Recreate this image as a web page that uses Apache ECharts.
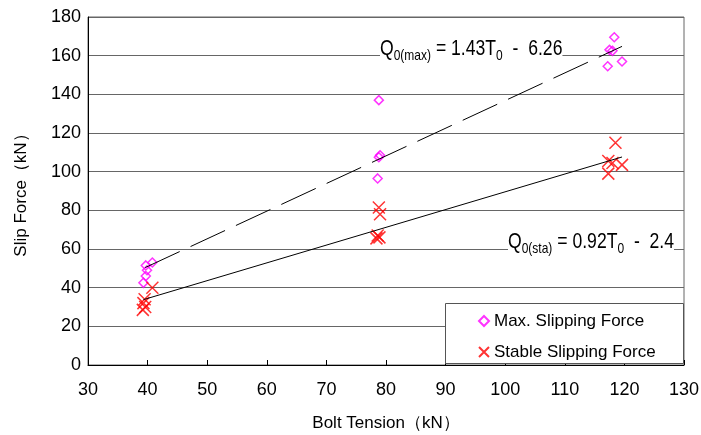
<!DOCTYPE html>
<html>
<head>
<meta charset="utf-8">
<script src="https://cdn.jsdelivr.net/npm/echarts@6/dist/echarts.min.js"></script>
<style>
  html, body { margin: 0; padding: 0; background: #fff; }
  #chart { width: 701px; height: 435px; }
</style>
</head>
<body>
<div id="chart"></div>
<script>
// values: [bolt tension, slip force]
const maxSlip = [
  [40.8, 53], [39.7, 51.5], [39.9, 49], [39.7, 46], [39.3, 42.5],
  [78.8, 137], [79.0, 108.5], [78.8, 107.5], [78.6, 96.5],
  [118.3, 169.5], [117.5, 163], [118.0, 162.5], [119.6, 157], [117.2, 154.5]
]
const stableSlip = [
  [40.8, 40], [39.5, 34], [39.3, 32], [39.6, 30], [39.2, 28.5],
  [78.8, 81.5], [79.0, 78], [78.6, 67], [78.9, 66], [78.4, 65.5],
  [118.5, 115], [117.3, 105.5], [118.0, 104.5], [119.6, 103.5], [117.3, 99]
]
// end points of the two fitted lines
const maxFit = [[39.6, 50.4], [119.6, 164.8]]
const stableFit = [[39.3, 33.8], [119.6, 107.6]]
const xTicks = { min: 30, max: 130, step: 10 }
const yTicks = { min: 0, max: 180, step: 20 }

const font = '"Liberation Sans", Arial, sans-serif'
const diamond = 'path://M5,0L10,5L5,10L0,5Z'
const cross = 'path://M0,0L10,10M10,0L0,10'

// equation text, drawn narrow like the original
const eqRich = {
  m: { fontSize: 22, fontFamily: font, lineHeight: 22, verticalAlign: 'top' },
  s: { fontSize: 15, fontFamily: font, lineHeight: 15, padding: [10, 0, 0, 0], verticalAlign: 'top' }
}

const chart = echarts.init(document.getElementById('chart'))
chart.setOption({
  animation: false,
  grid: {
    left: 88,
    right: 17,
    top: 17,
    bottom: 70,
    outerBoundsMode: 'none',
    show: true,
    borderColor: '#666',
    borderWidth: 1
  },
  xAxis: {
    type: 'value',
    min: xTicks.min,
    max: xTicks.max,
    interval: xTicks.step,
    name: 'Bolt Tension（kN）',
    nameLocation: 'middle',
    nameGap: 50,
    nameTextStyle: { color: '#000', fontSize: 17, fontFamily: font },
    axisLine: { lineStyle: { color: '#000', width: 1 } },
    axisTick: { inside: true, length: 5, lineStyle: { color: '#000' } },
    axisLabel: { color: '#000', fontSize: 18, fontFamily: font, margin: 16 },
    splitLine: { show: false }
  },
  yAxis: {
    type: 'value',
    min: yTicks.min,
    max: yTicks.max,
    interval: yTicks.step,
    name: 'Slip Force（kN）',
    nameLocation: 'middle',
    nameRotate: 90,
    nameGap: 58,
    nameTextStyle: { color: '#000', fontSize: 17, fontFamily: font },
    axisLine: { show: true, lineStyle: { color: '#000', width: 1 } },
    axisTick: { show: false },
    axisLabel: { color: '#000', fontSize: 18, fontFamily: font, margin: 7 },
    splitLine: { lineStyle: { color: '#666', width: 1 } }
  },
  legend: {
    orient: 'vertical',
    left: 473,
    top: 307,
    z: 200,
    itemWidth: 10,
    itemHeight: 10,
    itemGap: 13,
    textStyle: { color: '#000', fontSize: 17, fontFamily: font, lineHeight: 18 },
    data: ['Max. Slipping Force', 'Stable Slipping Force']
  },
  graphic: [
    {
      type: 'rect',
      left: 445,
      top: 303,
      z: 100,
      shape: { width: 238, height: 60 },
      style: { fill: '#fff', stroke: '#555', lineWidth: 1 }
    },
    {
      type: 'text',
      x: 380,
      y: 38,
      scaleX: 0.8,
      z: 100,
      style: {
        text: '{m|Q}{s|0(max)}{m| = 1.43T}{s|0}{m|  -  6.26}',
        backgroundColor: '#fff',
        fill: '#000',
        rich: eqRich
      }
    },
    {
      type: 'text',
      x: 508,
      y: 231,
      scaleX: 0.8,
      z: 100,
      style: {
        text: '{m|Q}{s|0(sta)}{m| = 0.92T}{s|0}{m|  -  2.4}',
        backgroundColor: '#fff',
        fill: '#000',
        rich: eqRich
      }
    }
  ],
  series: [
    {
      name: 'Max. Slipping Force',
      type: 'scatter',
      data: maxSlip,
      symbol: diamond,
      symbolSize: 9,
      itemStyle: { color: 'rgba(255,255,255,0)', borderColor: '#ff00ff', borderWidth: 1.5 }
    },
    {
      name: 'Stable Slipping Force',
      type: 'scatter',
      data: stableSlip,
      symbol: cross,
      symbolSize: 12,
      itemStyle: { color: 'rgba(255,255,255,0)', borderColor: '#ff0000', borderWidth: 1.5 }
    },
    {
      type: 'line',
      data: maxFit,
      symbol: 'none',
      silent: true,
      lineStyle: { color: '#000', width: 1, type: [38, 12] }
    },
    {
      type: 'line',
      data: stableFit,
      symbol: 'none',
      silent: true,
      lineStyle: { color: '#000', width: 1 }
    }
  ]
})
</script>
</body>
</html>
